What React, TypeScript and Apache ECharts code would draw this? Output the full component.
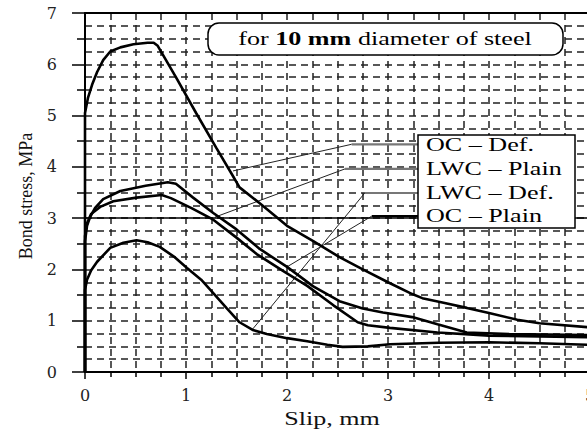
import React, { useEffect, useRef } from 'react';
import * as echarts from 'echarts';

// Bond stress (MPa) vs slip (mm), 10 mm bars
const ocDef: number[][] = [
  [0, 0], [0, 5.05], [0.03, 5.35], [0.07, 5.6], [0.12, 5.85], [0.18, 6.08], [0.25, 6.25],
  [0.35, 6.33], [0.48, 6.39], [0.62, 6.42], [0.68, 6.42], [0.72, 6.36], [0.9, 5.75],
  [1.1, 5.05], [1.3, 4.37], [1.45, 3.87], [1.53, 3.6], [1.73, 3.29], [2.0, 2.85],
  [2.26, 2.55], [2.52, 2.24], [2.75, 2.0], [3.0, 1.75], [3.24, 1.52], [3.34, 1.44],
  [3.55, 1.35], [3.78, 1.25], [4.0, 1.15], [4.28, 1.02], [4.5, 0.95], [5.0, 0.87],
];
const ocPlain: number[][] = [
  [0, 0], [0, 2.55], [0.02, 2.85], [0.05, 3.02], [0.1, 3.2], [0.18, 3.37], [0.35, 3.53],
  [0.6, 3.63], [0.82, 3.7], [0.9, 3.67], [1.07, 3.4], [1.27, 3.1], [1.5, 2.78], [1.73, 2.4],
  [2.0, 2.05], [2.26, 1.67], [2.52, 1.38], [2.75, 1.24], [2.95, 1.16], [3.24, 1.07],
  [3.49, 0.93], [3.78, 0.77], [4.2, 0.74], [5.0, 0.72],
];
const lwcPlain: number[][] = [
  [0, 0], [0, 2.65], [0.02, 2.9], [0.06, 3.08], [0.15, 3.22], [0.28, 3.33], [0.51, 3.4],
  [0.76, 3.45], [0.85, 3.39], [1.05, 3.2], [1.27, 2.97], [1.5, 2.62], [1.7, 2.3], [1.96, 1.97],
  [2.2, 1.68], [2.46, 1.3], [2.7, 0.97], [2.8, 0.91], [3.02, 0.86], [3.49, 0.77], [4.0, 0.71],
  [5.0, 0.68],
];
const lwcDef: number[][] = [
  [0, 0], [0, 1.6], [0.02, 1.8], [0.06, 1.98], [0.12, 2.15], [0.25, 2.42], [0.38, 2.52],
  [0.51, 2.57], [0.62, 2.53], [0.74, 2.44], [0.88, 2.25], [1.01, 2.03], [1.15, 1.8],
  [1.27, 1.54], [1.4, 1.25], [1.53, 0.97], [1.66, 0.82], [1.8, 0.74], [2.0, 0.66],
  [2.2, 0.6], [2.4, 0.53], [2.55, 0.49], [2.8, 0.5], [3.02, 0.54], [3.5, 0.57],
  [4.0, 0.58], [4.5, 0.56], [5.0, 0.53],
];

const legendLabels = ['OC – Def.', 'LWC – Plain', 'LWC – Def.', 'OC – Plain'];
// leader lines: [start on curve, bend point, end at legend box]
const leaderStart: number[][] = [[1.465, 3.92], [1.287, 3.02], [1.653, 0.82], [2.0, 2.05]];
const leaderBend: number[][] = [[2.64, 4.44], [2.574, 3.96], [2.77, 3.49], [2.84, 3.04]];
const leaderEndX = 3.3;

const xTicks = { min: 0, max: 5, major: 1, grid: 0.25 };
const yTicks = { min: 0, max: 7, major: 1, grid: 0.25 };

const serif = 'Liberation Serif, Times New Roman, serif';
const tickFont = 'DejaVu Serif, serif';

export default function App() {
  const ref = useRef<HTMLDivElement>(null);
  useEffect(() => {
    if (!ref.current) return;
    const chart = echarts.init(ref.current, undefined, { renderer: 'svg' });
    const dash = { type: [7, 5] as any, color: '#222', width: 1.5 };
    const curveStyle = { color: '#000', width: 2.6 };
    const curves = [ocDef, lwcPlain, lwcDef, ocPlain];
    const series: any[] = curves.map((d, i) => ({
      type: 'line',
      name: legendLabels[i],
      data: d,
      showSymbol: false,
      symbol: 'none',
      lineStyle: curveStyle,
      z: 5,
      ...(i === 0
        ? {
            markLine: {
              silent: true,
              symbol: 'none',
              label: { show: false },
              lineStyle: { color: '#000', width: 1.5, type: 'solid' },
              data: [{ yAxis: 3 }],
            },
          }
        : {}),
    }));
    leaderStart.forEach((s, i) => {
      series.push({
        type: 'line',
        data: [s, leaderBend[i]],
        symbol: 'none',
        lineStyle: { color: '#222', width: 1 },
        z: 4,
      });
      series.push({
        type: 'line',
        data: [leaderBend[i], [leaderEndX, leaderBend[i][1]]],
        symbol: 'none',
        lineStyle: { color: i === 3 ? '#000' : '#777', width: 2.2 },
        z: 4,
      });
    });

    const legendTop = [145, 169, 193, 216];
    const graphics: any[] = [
      {
        type: 'rect', z: 100,
        shape: { x: 208, y: 23, width: 355, height: 32, r: 11 },
        style: { fill: '#fff', stroke: '#000', lineWidth: 1.5 },
      },
      {
        type: 'text', z: 101, x: 385, y: 39, scaleX: 1.45,
        style: {
          text: '{n|for }{b|10 mm}{n| diameter of steel}',
          rich: {
            n: { fontFamily: serif, fontSize: 18, fill: '#000' },
            b: { fontFamily: serif, fontSize: 18, fontWeight: 'bold', fill: '#000' },
          },
          align: 'center', verticalAlign: 'middle',
          textAlign: 'center', textVerticalAlign: 'middle',
        },
      },
      {
        type: 'rect', z: 100,
        shape: { x: 418, y: 135, width: 157, height: 93 },
        style: { fill: '#fff', stroke: '#000', lineWidth: 1.5 },
      },
      ...legendLabels.map((t, i) => ({
        type: 'text', z: 101, x: 426, y: legendTop[i], scaleX: 1.45,
        style: {
          text: t, fontFamily: serif, fontSize: 18, fill: '#000',
          align: 'left', verticalAlign: 'middle', textAlign: 'left', textVerticalAlign: 'middle',
        },
      })),
      {
        type: 'text', z: 101, x: 332, y: 419, scaleX: 1.45,
        style: {
          text: 'Slip, mm', fontFamily: serif, fontSize: 18, fill: '#111',
          align: 'center', verticalAlign: 'middle', textAlign: 'center', textVerticalAlign: 'middle',
        },
      },
      {
        type: 'text', z: 101, x: 26, y: 196, rotation: Math.PI / 2,
        style: {
          text: 'Bond stress, MPa', fontFamily: serif, fontSize: 18, fill: '#111',
          align: 'center', verticalAlign: 'middle', textAlign: 'center', textVerticalAlign: 'middle',
        },
      },
    ];

    chart.setOption({
      animation: false,
      backgroundColor: '#fff',
      grid: {
        left: 85, top: 13, width: 505, height: 359,
        containLabel: false, outerBoundsMode: 'none',
      },
      xAxis: [
        {
          type: 'value', min: xTicks.min, max: xTicks.max, interval: xTicks.major, position: 'bottom',
          axisLine: { show: true, onZero: false, lineStyle: { color: '#000', width: 2 } },
          axisTick: { show: true, length: 7, lineStyle: { color: '#000', width: 1.5 } },
          minorTick: { show: true, splitNumber: 4, length: 5, lineStyle: { color: '#000', width: 1.5 } },
          axisLabel: { fontFamily: tickFont, fontSize: 16, color: '#222', margin: 15 },
          splitLine: { show: false },
        },
        {
          type: 'value', min: xTicks.min, max: xTicks.max, interval: xTicks.grid, position: 'top',
          axisLine: { show: true, onZero: false, lineStyle: { color: '#000', width: 2 } },
          axisTick: { show: false }, axisLabel: { show: false },
          splitLine: { show: true, lineStyle: dash },
        },
      ],
      yAxis: [
        {
          type: 'value', min: yTicks.min, max: yTicks.max, interval: yTicks.major, position: 'left',
          axisLine: { show: true, onZero: false, lineStyle: { color: '#000', width: 2 } },
          axisTick: { show: true, length: 13, lineStyle: { color: '#000', width: 1.5 } },
          minorTick: { show: true, splitNumber: 2, length: 8, lineStyle: { color: '#000', width: 1.5 } },
          axisLabel: { fontFamily: tickFont, fontSize: 16, color: '#222', margin: 28 },
          splitLine: { show: false },
        },
        {
          type: 'value', min: yTicks.min, max: yTicks.max, interval: yTicks.grid, position: 'left',
          axisLine: { show: false }, axisTick: { show: false }, axisLabel: { show: false },
          splitLine: { show: true, lineStyle: dash },
        },
      ],
      series,
      graphic: graphics,
    });
    return () => chart.dispose();
  }, []);
  return (
    <div
      ref={ref}
      style={{ position: 'fixed', left: 0, top: 0, width: 587, height: 429, background: '#fff' }}
    />
  );
}
